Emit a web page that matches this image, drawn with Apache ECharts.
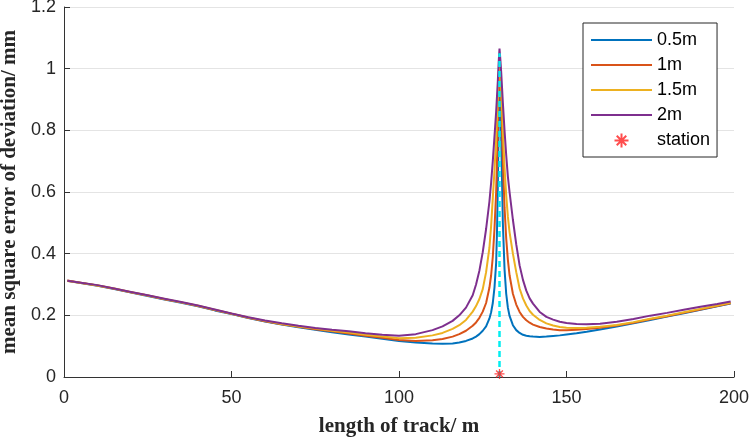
<!DOCTYPE html>
<html>
<head>
<meta charset="utf-8">
<style>
  html, body { margin: 0; padding: 0; background: #fff; }
  #chart { width: 751px; height: 438px; }
</style>
<script src="https://cdn.jsdelivr.net/npm/echarts@6/dist/echarts.min.js"></script>
</head>
<body>
<div id="chart"></div>
<script>
// track position (m)
var trackX = [1, 5, 10, 15, 20, 25, 30, 35, 40, 45, 50, 55, 60, 65, 70, 75, 80, 85, 90, 95,
  100, 105, 110, 113, 116, 118, 120, 122, 123, 124, 125, 126, 127, 127.5, 128, 128.5, 129, 129.25, 129.5, 129.75,
  130, 130.25, 130.5, 130.75, 131, 131.5, 132, 132.5, 133, 134, 135, 136, 137, 138, 139, 140, 142, 144, 146, 148,
  150, 153, 156, 160, 165, 170, 175, 180, 185, 190, 195, 199];

// mean square error, one list per height
var err05 = [.312, .305, .296, .285, .274, .263, .251, .241, .229, .216, .204, .191, .180, .170, .161, .153, .145, .138, .131, .124,
  .117, .112, .109, .108, .109, .112, .117, .125, .131, .139, .150, .164, .190, .210, .240, .290, .370, .470, .620, .800,
  1.02, .900, .780, .640, .500, .350, .270, .225, .198, .168, .152, .143, .137, .134, .132, .131, .130, .131, .133, .135,
  .138, .142, .147, .154, .164, .174, .185, .196, .207, .218, .229, .238];
var err1 = [.313, .306, .297, .286, .275, .264, .252, .242, .230, .217, .205, .192, .181, .171, .163, .155, .148, .141, .134, .127,
  .120, .117, .119, .123, .131, .139, .150, .166, .177, .192, .212, .240, .290, .330, .390, .480, .600, .700, .800, .920,
  1.04, .990, .900, .800, .700, .550, .450, .380, .330, .270, .235, .211, .195, .184, .176, .170, .162, .157, .154, .152,
  .152, .153, .156, .160, .167, .176, .187, .197, .208, .219, .230, .239];
var err15 = [.311, .305, .297, .287, .275, .264, .253, .242, .231, .218, .205, .193, .182, .172, .164, .157, .150, .144, .137, .131,
  .126, .127, .135, .143, .156, .168, .185, .212, .230, .253, .285, .340, .420, .490, .580, .670, .770, .840, .910, .980,
  1.05, 1.00, .940, .870, .800, .680, .590, .520, .470, .400, .340, .287, .255, .232, .214, .202, .185, .174, .167, .162,
  .160, .159, .160, .163, .169, .178, .189, .199, .210, .221, .232, .241];
var err2 = [.312, .306, .298, .287, .276, .265, .254, .243, .232, .219, .206, .194, .183, .174, .166, .159, .153, .148, .142, .137,
  .134, .139, .152, .164, .182, .200, .225, .265, .300, .345, .405, .480, .570, .630, .700, .780, .860, .910, .960, 1.02,
  1.065, 1.03, .990, .940, .890, .800, .720, .650, .600, .510, .430, .362, .315, .280, .255, .238, .211, .195, .186, .179,
  .175, .172, .171, .173, .179, .188, .199, .208, .218, .228, .237, .245];

var seriesNames = ["0.5m", "1m", "1.5m", "2m"];
var seriesColors = ["#0072BD", "#D95319", "#EDB120", "#7E2F8E"];
var seriesValues = [err05, err1, err15, err2];

// station position and the dashed marker line
var stationX = 130;
var stationY = 0.01;
var stationLineY = [0, 1.05];

var yTicks = [0, 0.2, 0.4, 0.6, 0.8, 1, 1.2];

var asterisk = "path://M5 0L5 10M0 5L10 5M1.6 1.6L8.4 8.4M8.4 1.6L1.6 8.4";
var legendLine = "path://M0 0L61 0L61 2L0 2Z";

var myChart = echarts.init(document.getElementById("chart"));

var series = seriesValues.map(function (vals, i) {
  return {
    name: seriesNames[i],
    type: "line",
    symbol: "none",
    lineStyle: { color: seriesColors[i], width: 2 },
    itemStyle: { color: seriesColors[i] },
    z: 2 + i,
    data: trackX.map(function (x, k) {
      return [x, vals[k]];
    }),
  };
});

series.push({
  name: "stationLine",
  type: "line",
  symbol: "none",
  lineStyle: { color: "#00eef0", width: 2.5, type: [6, 4] },
  z: 10,
  data: stationLineY.map(function (y) {
    return [stationX, y];
  }),
});

series.push({
  name: "station",
  type: "scatter",
  symbol: asterisk,
  symbolSize: 10,
  itemStyle: { color: "none", borderColor: "#ff2020", borderWidth: 1.3 },
  z: 11,
  data: [[stationX, stationY]],
});

var legendData = seriesNames.map(function (n) {
  return { name: n, icon: legendLine };
});
legendData.push({ name: "station" });

var option = {
  animation: false,
  backgroundColor: "#fff",
  textStyle: { fontFamily: "Arial, 'Liberation Sans', sans-serif" },
  grid: { left: 64, right: 17, top: 7, bottom: 61, containLabel: false, outerBoundsMode: "none" },
  legend: {
    data: legendData,
    orient: "vertical",
    left: 583,
    top: 23,
    padding: [8, 7, 7, 8],
    itemWidth: 61,
    itemHeight: 14,
    itemGap: 7,
    borderColor: "#262626",
    borderWidth: 1,
    backgroundColor: "#fff",
    textStyle: { fontSize: 18, color: "#000", lineHeight: 18 },
  },
  xAxis: {
    type: "value",
    min: 0,
    max: 200,
    interval: 50,
    name: "length of track/ m",
    nameLocation: "middle",
    nameGap: 39,
    nameTextStyle: {
      fontFamily: "'Liberation Serif', 'Times New Roman', serif",
      fontWeight: "bold",
      fontSize: 21,
      color: "#262626",
    },
    axisLine: { lineStyle: { color: "#333", width: 1 } },
    axisTick: { inside: true, length: 6, lineStyle: { color: "#333" } },
    axisLabel: { fontSize: 18, color: "#262626", margin: 12 },
    splitLine: { show: false },
  },
  yAxis: {
    type: "value",
    min: yTicks[0],
    max: yTicks[yTicks.length - 1],
    interval: 0.2,
    name: "mean square error of deviation/ mm",
    nameLocation: "middle",
    nameGap: 43,
    nameTextStyle: {
      fontFamily: "'Liberation Serif', 'Times New Roman', serif",
      fontWeight: "bold",
      fontSize: 21,
      color: "#262626",
    },
    axisLine: { show: true, lineStyle: { color: "#333", width: 1 } },
    axisTick: { show: true, inside: true, length: 6, lineStyle: { color: "#333" } },
    axisLabel: { fontSize: 18, color: "#262626", margin: 8 },
    splitLine: { show: true, lineStyle: { color: "#e4e4e4", width: 1 } },
  },
  series: series,
};

myChart.setOption(option);
window.addEventListener("resize", function () {
  myChart.resize();
});
</script>
</body>
</html>
